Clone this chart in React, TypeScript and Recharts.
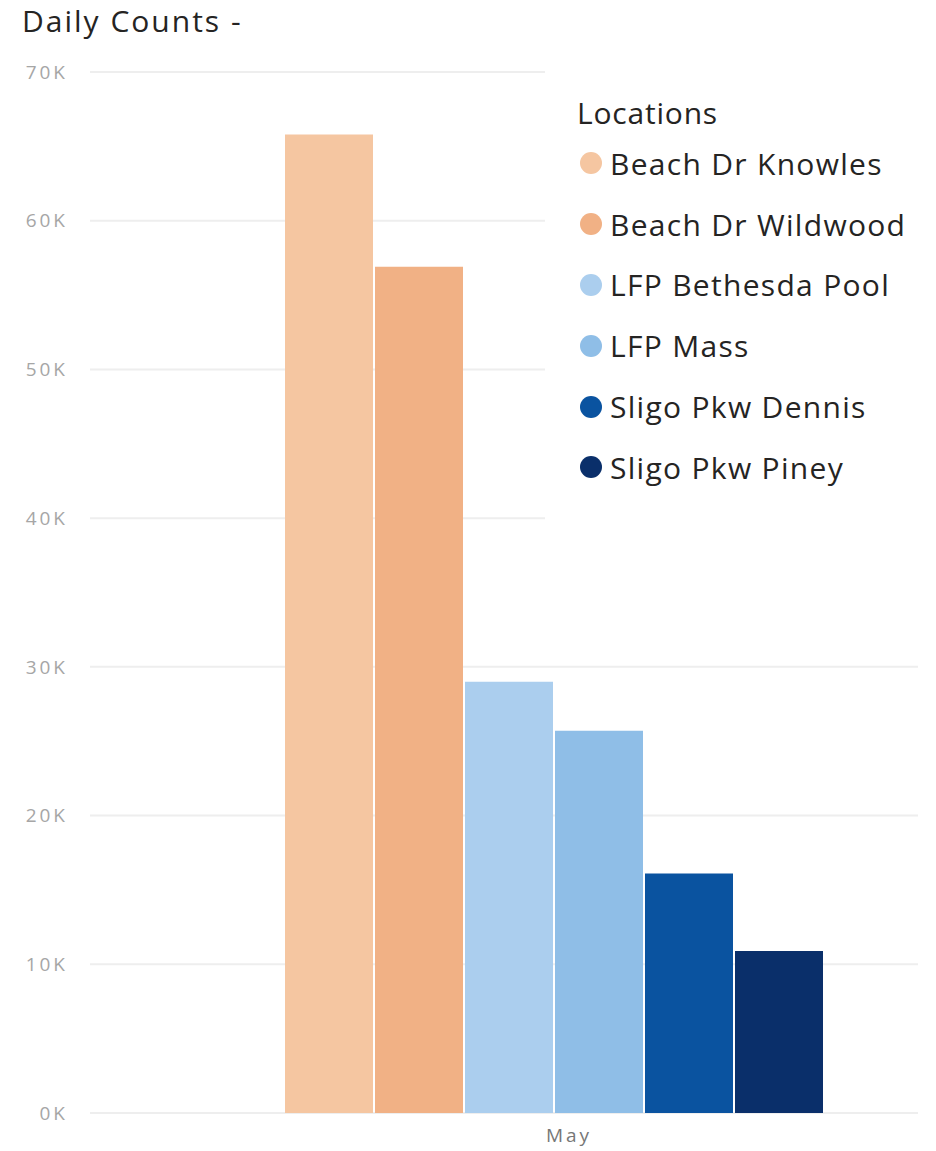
import { BarChart, Bar, XAxis, YAxis, CartesianGrid, Legend } from 'recharts';

const months = ['May'];
const locations = [
  'Beach Dr Knowles',
  'Beach Dr Wildwood',
  'LFP Bethesda Pool',
  'LFP Mass',
  'Sligo Pkw Dennis',
  'Sligo Pkw Piney',
];
const counts = [65800, 56900, 29000, 25700, 16100, 10900];
const colors = ['#F5C6A1', '#F1B185', '#ABCEEE', '#8FBEE7', '#0A53A0', '#0A2F6A'];
const yTicks = [0, 10000, 20000, 30000, 40000, 50000, 60000, 70000];

const data = months.map(m => {
  const row: Record<string, string | number> = { month: m };
  locations.forEach((loc, i) => {
    row[loc] = counts[i];
  });
  return row;
});

const font = '"Open Sans", "Noto Sans", sans-serif';

function LocationsLegend() {
  return (
    <div style={{ background: '#fff', width: 380, height: 470, fontFamily: font, color: '#252423', letterSpacing: 1.3 }}>
      <div style={{ fontSize: 30, lineHeight: '36px', paddingLeft: 32, paddingTop: 35, letterSpacing: 0.8 }}>Locations</div>
      <div style={{ paddingTop: 2 }}>
        {locations.map((loc, i) => (
          <div key={loc} style={{ display: 'flex', alignItems: 'center', height: 60.8, paddingLeft: 35, fontSize: 30 }}>
            <span style={{ width: 22, height: 22, borderRadius: 11, background: colors[i], marginRight: 8, flexShrink: 0 }} />
            <span>{loc}</span>
          </div>
        ))}
      </div>
    </div>
  );
}

export default function App() {
  return (
    <div style={{ position: 'absolute', left: 0, top: 0, width: 936, height: 1151, background: '#fff' }}>
      <div style={{ position: 'absolute', left: 22, top: 0, fontFamily: font, fontSize: 30, letterSpacing: 2, color: '#252423', zIndex: 2 }}>
        Daily Counts -
      </div>
      <BarChart
        width={936}
        height={1151}
        data={data}
        margin={{ top: 72, right: 18, bottom: 0, left: 0 }}
        barCategoryGap={0}
        barGap={2}
      >
        <CartesianGrid vertical={false} stroke="#eeeeee" strokeWidth={2} />
        <XAxis
          dataKey="month"
          height={38}
          padding={{ left: 195, right: 95 }}
          axisLine={false}
          tickLine={false}
          tickMargin={10}
          tick={{ fill: '#777', fontSize: 19, fontFamily: font, letterSpacing: 3, dx: 15 }}
        />
        <YAxis
          width={90}
          domain={[0, 70000]}
          ticks={yTicks}
          axisLine={false}
          tickLine={false}
          tickSize={0}
          tickMargin={22}
          tickFormatter={(v: number) => `${v / 1000}K`}
          tick={{ fill: '#a6a6a6', fontSize: 19, fontFamily: font, letterSpacing: 3 }}
        />
        <Legend
          layout="vertical"
          align="center"
          verticalAlign="middle"
          content={() => <LocationsLegend />}
          wrapperStyle={{ left: 545, top: 60, width: 380, height: 470 }}
        />
        {locations.map((loc, i) => (
          <Bar key={loc} dataKey={loc} fill={colors[i]} isAnimationActive={false} />
        ))}
      </BarChart>
    </div>
  );
}
